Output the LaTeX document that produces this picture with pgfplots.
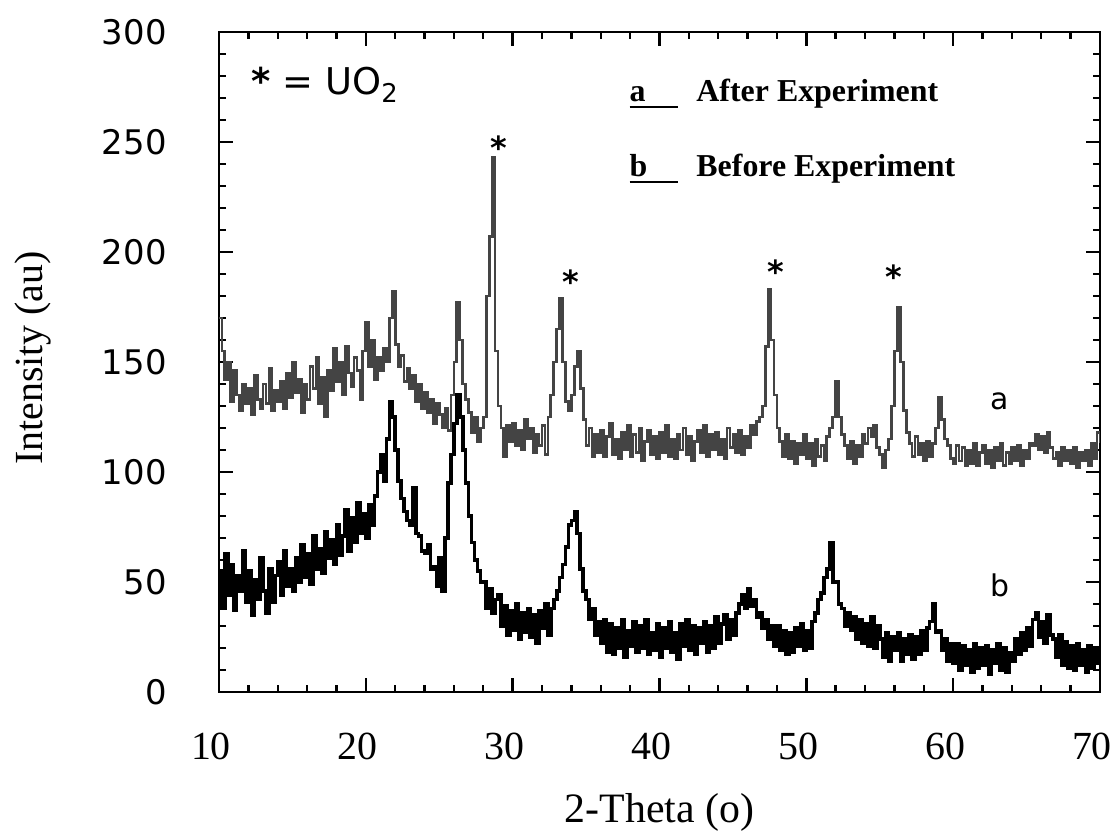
\documentclass[border=0pt]{standalone}
\usepackage{fontspec}
\setmainfont{Liberation Serif}
\newfontfamily\sansf{DejaVu Sans}
\usepackage{pgfplots}
\usepackage{pgfplotstable}
\pgfplotsset{compat=1.18}
\definecolor{agray}{RGB}{68,68,68}
\pgfplotstableread[row sep=\\]{
x y\\
10.0 170\\ 10.2 155\\ 10.4 142\\ 10.6 150\\ 10.8 132\\
11.0 146\\ 11.2 135\\ 11.4 128\\ 11.6 140\\ 11.8 131\\
12.0 138\\ 12.2 126\\ 12.4 144\\ 12.6 133\\ 12.8 129\\
13.0 140\\ 13.2 131\\ 13.4 147\\ 13.6 128\\ 13.8 137\\
14.0 132\\ 14.2 141\\ 14.4 129\\ 14.6 145\\ 14.8 134\\
15.0 150\\ 15.2 136\\ 15.4 142\\ 15.6 127\\ 15.8 140\\
16.0 133\\ 16.2 148\\ 16.4 138\\ 16.6 152\\ 16.8 131\\
17.0 143\\ 17.2 125\\ 17.4 146\\ 17.6 137\\ 17.8 156\\
18.0 141\\ 18.2 150\\ 18.4 135\\ 18.6 157\\ 18.8 145\\
19.0 139\\ 19.2 152\\ 19.4 146\\ 19.6 133\\ 19.8 155\\
20.0 168\\ 20.2 148\\ 20.4 160\\ 20.6 142\\ 20.8 152\\
21.0 146\\ 21.2 156\\ 21.4 150\\ 21.6 170\\ 21.8 182\\
22.0 158\\ 22.2 148\\ 22.4 153\\ 22.6 141\\ 22.8 147\\
23.0 138\\ 23.2 144\\ 23.4 132\\ 23.6 140\\ 23.8 129\\
24.0 136\\ 24.2 127\\ 24.4 133\\ 24.6 122\\ 24.8 131\\
25.0 126\\ 25.2 120\\ 25.4 129\\ 25.6 119\\ 25.8 135\\
26.0 150\\ 26.2 177\\ 26.4 160\\ 26.6 140\\ 26.8 133\\
27.0 127\\ 27.2 118\\ 27.4 125\\ 27.6 114\\ 27.8 120\\
28.0 125\\ 28.2 180\\ 28.4 207\\ 28.6 243\\ 28.8 155\\
29.0 130\\ 29.2 120\\ 29.4 107\\ 29.6 121\\ 29.8 114\\
30.0 122\\ 30.2 112\\ 30.4 119\\ 30.6 110\\ 30.8 124\\
31.0 115\\ 31.2 120\\ 31.4 109\\ 31.6 117\\ 31.8 112\\
32.0 121\\ 32.2 108\\ 32.4 125\\ 32.6 135\\ 32.8 150\\
33.0 165\\ 33.2 179\\ 33.4 150\\ 33.6 132\\ 33.8 128\\
34.0 135\\ 34.2 148\\ 34.4 155\\ 34.6 138\\ 34.8 124\\
35.0 112\\ 35.2 120\\ 35.4 107\\ 35.6 117\\ 35.8 109\\
36.0 119\\ 36.2 107\\ 36.4 116\\ 36.6 122\\ 36.8 108\\
37.0 115\\ 37.2 106\\ 37.4 118\\ 37.6 110\\ 37.8 121\\
38.0 107\\ 38.2 117\\ 38.4 109\\ 38.6 120\\ 38.8 105\\
39.0 114\\ 39.2 119\\ 39.4 108\\ 39.6 116\\ 39.8 106\\
40.0 118\\ 40.2 109\\ 40.4 121\\ 40.6 107\\ 40.8 115\\
41.0 106\\ 41.2 117\\ 41.4 110\\ 41.6 120\\ 41.8 108\\
42.0 116\\ 42.2 105\\ 42.4 114\\ 42.6 119\\ 42.8 109\\
43.0 121\\ 43.2 107\\ 43.4 117\\ 43.6 110\\ 43.8 118\\
44.0 108\\ 44.2 115\\ 44.4 106\\ 44.6 120\\ 44.8 111\\
45.0 117\\ 45.2 109\\ 45.4 119\\ 45.6 108\\ 45.8 116\\
46.0 111\\ 46.2 121\\ 46.4 117\\ 46.6 123\\ 46.8 125\\
47.0 130\\ 47.2 157\\ 47.4 183\\ 47.6 160\\ 47.8 135\\
48.0 120\\ 48.2 114\\ 48.4 107\\ 48.6 117\\ 48.8 106\\
49.0 114\\ 49.2 104\\ 49.4 113\\ 49.6 108\\ 49.8 117\\
50.0 106\\ 50.2 113\\ 50.4 103\\ 50.6 115\\ 50.8 107\\
51.0 112\\ 51.2 105\\ 51.4 116\\ 51.6 120\\ 51.8 125\\
52.0 141\\ 52.2 125\\ 52.4 117\\ 52.6 112\\ 52.8 106\\
53.0 114\\ 53.2 104\\ 53.4 112\\ 53.6 107\\ 53.8 117\\
54.0 113\\ 54.2 120\\ 54.4 116\\ 54.6 121\\ 54.8 111\\
55.0 108\\ 55.2 102\\ 55.4 110\\ 55.6 115\\ 55.8 130\\
56.0 155\\ 56.2 175\\ 56.4 150\\ 56.6 128\\ 56.8 118\\
57.0 113\\ 57.2 107\\ 57.4 116\\ 57.6 108\\ 57.8 113\\
58.0 105\\ 58.2 114\\ 58.4 107\\ 58.6 113\\ 58.8 120\\
59.0 134\\ 59.2 124\\ 59.4 115\\ 59.6 112\\ 59.8 106\\
60.0 104\\ 60.2 112\\ 60.4 105\\ 60.6 111\\ 60.8 103\\
61.0 110\\ 61.2 104\\ 61.4 113\\ 61.6 103\\ 61.8 109\\
62.0 112\\ 62.2 104\\ 62.4 110\\ 62.6 102\\ 62.8 111\\
63.0 105\\ 63.2 113\\ 63.4 103\\ 63.6 109\\ 63.8 104\\
64.0 111\\ 64.2 105\\ 64.4 112\\ 64.6 103\\ 64.8 110\\
65.0 106\\ 65.2 113\\ 65.4 112\\ 65.6 117\\ 65.8 110\\
66.0 116\\ 66.2 109\\ 66.4 118\\ 66.6 111\\ 66.8 106\\
67.0 109\\ 67.2 103\\ 67.4 111\\ 67.6 105\\ 67.8 110\\
68.0 104\\ 68.2 111\\ 68.4 102\\ 68.6 109\\ 68.8 105\\
69.0 110\\ 69.2 103\\ 69.4 113\\ 69.6 106\\ 69.8 118\\
70.0 113\\
}\afterdata
\pgfplotstableread[row sep=\\]{
x y\\
10.0 55\\ 10.2 38\\ 10.4 63\\ 10.6 44\\ 10.8 58\\
11.0 37\\ 11.2 53\\ 11.4 46\\ 11.6 64\\ 11.8 41\\
12.0 55\\ 12.2 35\\ 12.4 51\\ 12.6 42\\ 12.8 61\\
13.0 46\\ 13.2 36\\ 13.4 56\\ 13.6 41\\ 13.8 53\\
14.0 59\\ 14.2 44\\ 14.4 64\\ 14.6 48\\ 14.8 56\\
15.0 46\\ 15.2 61\\ 15.4 50\\ 15.6 67\\ 15.8 52\\
16.0 63\\ 16.2 49\\ 16.4 71\\ 16.6 56\\ 16.8 65\\
17.0 54\\ 17.2 73\\ 17.4 61\\ 17.6 69\\ 17.8 58\\
18.0 76\\ 18.2 62\\ 18.4 71\\ 18.6 83\\ 18.8 64\\
19.0 79\\ 19.2 68\\ 19.4 86\\ 19.6 72\\ 19.8 81\\
20.0 70\\ 20.2 85\\ 20.4 76\\ 20.6 89\\ 20.8 100\\
21.0 108\\ 21.2 96\\ 21.4 115\\ 21.6 132\\ 21.8 125\\
22.0 110\\ 22.2 96\\ 22.4 88\\ 22.6 82\\ 22.8 78\\
23.0 76\\ 23.2 93\\ 23.4 72\\ 23.6 71\\ 23.8 64\\
24.0 63\\ 24.2 67\\ 24.4 56\\ 24.6 57\\ 24.8 48\\
25.0 61\\ 25.2 46\\ 25.4 70\\ 25.6 95\\ 25.8 108\\
26.0 122\\ 26.2 135\\ 26.4 125\\ 26.6 110\\ 26.8 95\\
27.0 80\\ 27.2 68\\ 27.4 60\\ 27.6 55\\ 27.8 50\\
28.0 50\\ 28.2 38\\ 28.4 47\\ 28.6 36\\ 28.8 42\\
29.0 44\\ 29.2 30\\ 29.4 39\\ 29.6 26\\ 29.8 37\\
30.0 28\\ 30.2 40\\ 30.4 24\\ 30.6 36\\ 30.8 27\\
31.0 38\\ 31.2 25\\ 31.4 35\\ 31.6 22\\ 31.8 37\\
32.0 29\\ 32.2 40\\ 32.4 26\\ 32.6 38\\ 32.8 42\\
33.0 46\\ 33.2 52\\ 33.4 58\\ 33.6 66\\ 33.8 76\\
34.0 78\\ 34.2 82\\ 34.4 72\\ 34.6 56\\ 34.8 46\\
35.0 42\\ 35.2 33\\ 35.4 38\\ 35.6 26\\ 35.8 32\\
36.0 22\\ 36.2 33\\ 36.4 18\\ 36.6 31\\ 36.8 17\\
37.0 29\\ 37.2 20\\ 37.4 33\\ 37.6 16\\ 37.8 28\\
38.0 21\\ 38.2 32\\ 38.4 18\\ 38.6 30\\ 38.8 20\\
39.0 33\\ 39.2 17\\ 39.4 27\\ 39.6 19\\ 39.8 31\\
40.0 16\\ 40.2 29\\ 40.4 20\\ 40.6 32\\ 40.8 18\\
41.0 27\\ 41.2 15\\ 41.4 31\\ 41.6 21\\ 41.8 33\\
42.0 19\\ 42.2 30\\ 42.4 17\\ 42.6 29\\ 42.8 22\\
43.0 32\\ 43.2 18\\ 43.4 30\\ 43.6 20\\ 43.8 34\\
44.0 22\\ 44.2 31\\ 44.4 35\\ 44.6 24\\ 44.8 33\\
45.0 26\\ 45.2 36\\ 45.4 40\\ 45.6 44\\ 45.8 38\\
46.0 47\\ 46.2 39\\ 46.4 42\\ 46.6 34\\ 46.8 36\\
47.0 29\\ 47.2 33\\ 47.4 24\\ 47.6 30\\ 47.8 21\\
48.0 30\\ 48.2 19\\ 48.4 28\\ 48.6 17\\ 48.8 27\\
49.0 18\\ 49.2 29\\ 49.4 21\\ 49.6 31\\ 49.8 19\\
50.0 28\\ 50.2 20\\ 50.4 32\\ 50.6 36\\ 50.8 42\\
51.0 45\\ 51.2 52\\ 51.4 56\\ 51.6 68\\ 51.8 50\\
52.0 50\\ 52.2 40\\ 52.4 38\\ 52.6 30\\ 52.8 36\\
53.0 28\\ 53.2 34\\ 53.4 24\\ 53.6 33\\ 53.8 22\\
54.0 31\\ 54.2 21\\ 54.4 34\\ 54.6 20\\ 54.8 30\\
55.0 24\\ 55.2 16\\ 55.4 27\\ 55.6 14\\ 55.8 25\\
56.0 19\\ 56.2 27\\ 56.4 14\\ 56.6 24\\ 56.8 17\\
57.0 26\\ 57.2 15\\ 57.4 25\\ 57.6 17\\ 57.8 28\\
58.0 19\\ 58.2 29\\ 58.4 32\\ 58.6 40\\ 58.8 27\\
59.0 28\\ 59.2 19\\ 59.4 24\\ 59.6 14\\ 59.8 22\\
60.0 13\\ 60.2 22\\ 60.4 10\\ 60.6 21\\ 60.8 12\\
61.0 19\\ 61.2 9\\ 61.4 22\\ 61.6 11\\ 61.8 20\\
62.0 12\\ 62.2 21\\ 62.4 8\\ 62.6 19\\ 62.8 13\\
63.0 22\\ 63.2 10\\ 63.4 20\\ 63.6 9\\ 63.8 18\\
64.0 14\\ 64.2 24\\ 64.4 17\\ 64.6 27\\ 64.8 19\\
65.0 29\\ 65.2 21\\ 65.4 33\\ 65.6 36\\ 65.8 25\\
66.0 32\\ 66.2 22\\ 66.4 35\\ 66.6 26\\ 66.8 24\\
67.0 16\\ 67.2 26\\ 67.4 12\\ 67.6 23\\ 67.8 11\\
68.0 21\\ 68.2 10\\ 68.4 22\\ 68.6 12\\ 68.8 19\\
69.0 9\\ 69.2 21\\ 69.4 11\\ 69.6 20\\ 69.8 13\\
70.0 16\\
}\beforedata
\begin{document}
\begin{tikzpicture}
\path[use as bounding box] (-109.5bp,-71bp) rectangle (448.5bp,346bp);
\begin{axis}[
  at={(0,0)}, anchor=south west,
  scale only axis, width=440.5bp, height=330bp,
  xmin=10, xmax=70, ymin=0, ymax=300,
  xtick={10,20,...,70}, ytick={0,50,...,300},
  minor x tick num=4, minor y tick num=4,
  tick align=inside, tick pos=both,
  xticklabel pos=lower, yticklabel pos=left,
  major tick length=7bp, minor tick length=3.5bp,
  axis line style={line width=1.4bp},
  every tick/.append style={black, line width=1.2bp},
  /pgf/number format/assume math mode=true,
  xticklabel style={font=\fontsize{20}{20}\selectfont, anchor=north, inner sep=0pt, yshift=-20.5bp, xshift=-4bp},
  yticklabel style={font=\sansf\fontsize{17}{17}\selectfont, anchor=east, inner sep=0pt, xshift=-26bp},
  xlabel={2-Theta (o)},
  xlabel style={font=\fontsize{21}{21}\selectfont, at={(axis description cs:0.5,-0.182)}, anchor=center},
  ylabel={Intensity (au)},
  ylabel style={font=\fontsize{20}{20}\selectfont, at={(axis description cs:-0.211,0.506)}, anchor=center},
]
\addplot[const plot, color=agray, line width=1.4bp] table[x=x,y=y] {\afterdata};
\addplot[const plot, color=black, line width=1.8bp] table[x=x,y=y] {\beforedata};

\node[anchor=base, inner sep=0pt, font=\sansf\bfseries\fontsize{16}{16}\selectfont] at (axis cs:29.07,242) {*};
\node[anchor=base, inner sep=0pt, font=\sansf\bfseries\fontsize{16}{16}\selectfont] at (axis cs:33.98,181.1) {*};
\node[anchor=base, inner sep=0pt, font=\sansf\bfseries\fontsize{16}{16}\selectfont] at (axis cs:47.94,185.6) {*};
\node[anchor=base, inner sep=0pt, font=\sansf\bfseries\fontsize{16}{16}\selectfont] at (axis cs:55.93,183.4) {*};

\node[anchor=base west, inner sep=0pt, font=\sansf\fontsize{18.5}{18.5}\selectfont] at (axis cs:12.2,271.4) {\textbf{*} = UO\textsubscript{2}};

\node[anchor=base west, inner sep=0pt, font=\bfseries\fontsize{16}{16}\selectfont] at (axis cs:37.93,268.3) {\makebox[33.5bp][l]{\rlap{\rule[-3.3bp]{24bp}{1.4bp}}a}After Experiment};
\node[anchor=base west, inner sep=0pt, font=\bfseries\fontsize{16}{16}\selectfont] at (axis cs:37.93,234.2) {\makebox[33.5bp][l]{\rlap{\rule[-3.3bp]{24bp}{1.4bp}}b}Before Experiment};

\node[anchor=base, inner sep=0pt, font=\sansf\fontsize{15}{15}\selectfont] at (axis cs:63.2,128.5) {a};
\node[anchor=base, inner sep=0pt, font=\sansf\fontsize{15}{15}\selectfont] at (axis cs:63.2,43.3) {b};
\end{axis}
\end{tikzpicture}
\end{document}
